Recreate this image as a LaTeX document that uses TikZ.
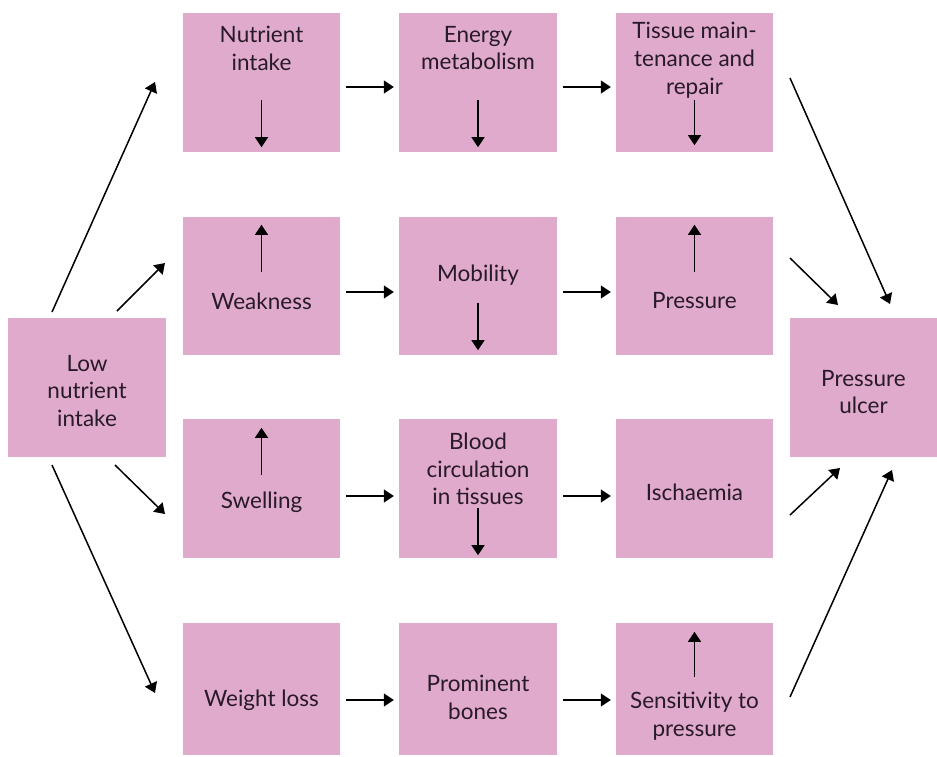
\documentclass[tikz,border=0pt]{standalone}
\usepackage{fontspec}
\setmainfont{Lato}
\usetikzlibrary{arrows.meta}
\definecolor{boxpink}{RGB}{224,170,204}
\definecolor{ink}{RGB}{40,26,40}

\begin{document}
\begin{tikzpicture}[x=1pt,y=-1pt,
  box/.style={fill=boxpink, draw=none, minimum width=157pt, minimum height=139pt, inner sep=0pt},
  txt/.style={font=\fontsize{22.5}{27.8}\selectfont, text=ink, align=center, inner sep=0pt},
  flow/.style={line width=1.5pt, draw=black, -{Triangle[length=10pt,width=13pt]}},
  across/.style={flow, shorten <=6pt, shorten >=5pt}]

\useasboundingbox (0,0) rectangle (937,757);

% boxes
\node[box, minimum width=158pt] (low) at (87,387.5) {};
\node[box] (nut) at (261.5,82.5) {};
\node[box, minimum width=158pt] (ene) at (478,82.5) {};
\node[box] (tis) at (694.5,82.5) {};
\node[box, minimum height=138pt] (wea) at (261.5,286) {};
\node[box, minimum width=158pt, minimum height=138pt] (mob) at (478,286) {};
\node[box, minimum height=138pt] (pre) at (694.5,286) {};
\node[box] (swe) at (261.5,488.5) {};
\node[box, minimum width=158pt] (blo) at (478,488.5) {};
\node[box] (isc) at (694.5,488.5) {};
\node[box, minimum height=132pt] (wei) at (261.5,689) {};
\node[box, minimum width=158pt, minimum height=132pt] (pro) at (478,689) {};
\node[box, minimum height=132pt] (sen) at (694.5,689) {};
\node[box, minimum width=147pt] (ulc) at (863.5,387.5) {};

% texts
\node[txt] (tlow) at (87,391) {Low\\nutrient\\intake};
\node[txt] (tnut) at (261.5,48) {Nutrient\\intake};
\node[txt] (tene) at (478,48) {Energy\\metabolism};
\node[txt] (ttis) at (694.5,60) {Tissue main-\\tenance and\\repair};
\node[txt] (twea) at (261.5,301) {Weakness};
\node[txt] (tmob) at (478,275) {Mobility};
\node[txt] (tpre) at (694.5,301) {Pressure};
\node[txt] (tswe) at (261.5,502) {Swelling};
\node[txt] (tblo) at (478,469) {Blood\\circulation\\in tissues};
\node[txt] (tisc) at (694.5,492) {Ischaemia};
\node[txt] (twei) at (261.5,700) {Weight loss};
\node[txt] (tpro) at (478,697) {Prominent\\bones};
\node[txt] (tsen) at (694.5,716) {Sensitivity to\\pressure};
\node[txt] (tulc) at (863.5,392) {Pressure\\ulcer};

% free ends of the diagonal connectors
\coordinate (l1) at (52,312);   \coordinate (n1) at (155,82);
\coordinate (l2) at (117,311);  \coordinate (n2) at (165,263);
\coordinate (l3) at (115,465);  \coordinate (n3) at (165,514);
\coordinate (l4) at (52,465);   \coordinate (n4) at (155,693);
\coordinate (r1) at (790,78);   \coordinate (u1) at (890,304);
\coordinate (r2) at (790,258);  \coordinate (u2) at (838,305);
\coordinate (r3) at (790,515);  \coordinate (u3) at (840,468);
\coordinate (r4) at (790,697);  \coordinate (u4) at (892,470);

% fan out from the cause
\draw[flow] (l1) -- (n1);
\draw[flow] (l2) -- (n2);
\draw[flow] (l3) -- (n3);
\draw[flow] (l4) -- (n4);

% fan in to the outcome
\draw[flow] (r1) -- (u1);
\draw[flow] (r2) -- (u2);
\draw[flow] (r3) -- (u3);
\draw[flow] (r4) -- (u4);

% chains along each row
\draw[across] ([yshift=-4.5pt]nut.east) -- ([yshift=-4.5pt]ene.west);
\draw[across] ([yshift=-4.5pt]ene.east) -- ([yshift=-4.5pt]tis.west);
\draw[across] ([yshift=-6pt]wea.east) -- ([yshift=-6pt]mob.west);
\draw[across] ([yshift=-6pt]mob.east) -- ([yshift=-6pt]pre.west);
\draw[across] ([yshift=-7.5pt]swe.east) -- ([yshift=-7.5pt]blo.west);
\draw[across] ([yshift=-7.5pt]blo.east) -- ([yshift=-7.5pt]isc.west);
\draw[across] ([yshift=-11pt]wei.east) -- ([yshift=-11pt]pro.west);
\draw[across] ([yshift=-11pt]pro.east) -- ([yshift=-11pt]sen.west);

% increase / decrease marks inside the boxes
\draw[flow] ([yshift=52pt]nut.south) -- ([yshift=5pt]nut.south);
\draw[flow] ([yshift=52pt]ene.south) -- ([yshift=5pt]ene.south);
\draw[flow] ([yshift=52pt]tis.south) -- ([yshift=7pt]tis.south);
\draw[flow] ([yshift=-55pt]wea.north) -- ([yshift=-8pt]wea.north);
\draw[flow] ([yshift=52pt]mob.south) -- ([yshift=5pt]mob.south);
\draw[flow] ([yshift=-55pt]pre.north) -- ([yshift=-8pt]pre.north);
\draw[flow] ([yshift=-56pt]swe.north) -- ([yshift=-9pt]swe.north);
\draw[flow] ([yshift=50pt]blo.south) -- ([yshift=3pt]blo.south);
\draw[flow] ([yshift=-54pt]sen.north) -- ([yshift=-9pt]sen.north);

\end{tikzpicture}
\end{document}
